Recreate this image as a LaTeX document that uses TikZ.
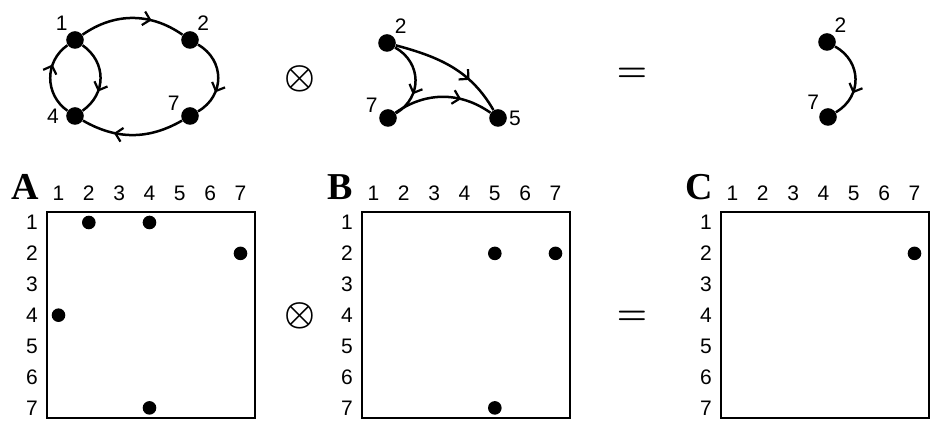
\documentclass[tikz,border=0pt]{standalone}
\usepackage{fontspec}
\setsansfont{Liberation Sans}
\newfontfamily\panelfont{Liberation Serif}
\usetikzlibrary{arrows.meta,decorations.markings}

\begin{document}
\begin{tikzpicture}[x=0.5pt,y=0.5pt,
  vertex/.style={circle,fill,inner sep=0pt,minimum size=8.8pt},
  lbl/.style={font=\sffamily\fontsize{10.5}{10.5}\selectfont,inner sep=0.8pt},
  edge/.style={line width=1.25pt,postaction={decorate},
    decoration={markings,mark=at position 0.68 with
      {\arrow{Straight Barb[length=3.4pt,width=7pt,line width=1.1pt]}}}},
  op/.style={font=\fontsize{19}{19}\selectfont\boldmath}]
  \useasboundingbox (0,0) rectangle (932,421);

  % first graph
  \node[vertex,label={[lbl]126:1}] (a1) at (75,381) {};
  \node[vertex,label={[lbl]54:2}]  (a2) at (190,381) {};
  \node[vertex,label={[lbl,label distance=2.5pt]180:4}] (a4) at (75,305) {};
  \node[vertex,label={[lbl]155:7}] (a7) at (190,305) {};
  \draw[edge] (a1) to[bend left=35] (a2);
  \draw[edge] (a2) to[bend left=60,looseness=1.2] (a7);
  \draw[edge] (a7) to[bend left=30] (a4);
  \draw[edge] (a4) to[bend left=55,looseness=1.1] (a1);
  \draw[edge] (a1) to[bend left=55,looseness=1.15] (a4);

  \node[op] (times1) at (300,342) {$\otimes$};

  % second graph
  \node[vertex,label={[lbl]50:2}]  (b2) at (387,378) {};
  \node[vertex,label={[lbl]155:7}] (b7) at (388,303) {};
  \node[vertex,label={[lbl]0:5}]   (b5) at (498,303) {};
  \draw[edge] (b2) to[bend left=60,looseness=1.2] (b7);
  \draw[edge] (b2) to[out=-15,in=120] (b5);
  \draw[edge] (b7) to[bend left=35] (b5);

  \node[op] (equals1) at (632,346) {$=$};

  % result graph
  \node[vertex,label={[lbl]53:2}]  (c2) at (827,379) {};
  \node[vertex,label={[lbl]140:7}] (c7) at (828,304) {};
  \draw[edge] (c2) to[bend left=60,looseness=1.2] (c7);

  % adjacency matrices
  \foreach \m/\lx in {A/47,B/362,C/721}{
    \draw[line width=1.4pt] (\lx,3) rectangle ++(208,206);
    \node[font=\panelfont\bfseries\fontsize{19}{19}\selectfont] (\m) at (\lx-22,234) {\m};
    \foreach \k in {1,...,7}{
      \node[lbl] (\m-c\k) at ({\lx+11.5+30.33*(\k-1)},228) {\k};
      \node[lbl] (\m-r\k) at (\lx-15,{198.5-30.9*(\k-1)}) {\k};
    }
  }
  \foreach \lx/\i/\j in {47/1/2,47/1/4,47/2/7,47/4/1,47/7/4,
                         362/2/5,362/2/7,362/7/5,721/2/7}
    \fill ({\lx+11.5+30.33*(\j-1)},{198.5-30.9*(\i-1)}) circle[radius=3.4pt];

  \node[op] (times2) at (300,105) {$\otimes$};
  \node[op] (equals2) at (632,103) {$=$};
\end{tikzpicture}
\end{document}
